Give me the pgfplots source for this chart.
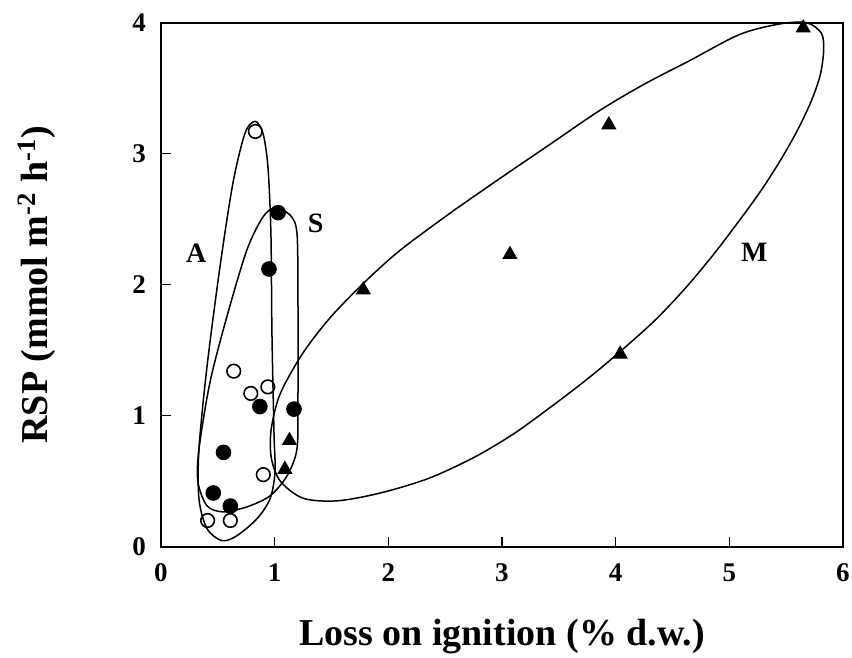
\documentclass[border=0pt]{standalone}
\usepackage{pgfplots}
\pgfplotsset{compat=1.18}
\usepackage{fontspec}
\setmainfont{Liberation Serif}
\begin{document}
\begin{tikzpicture}
\begin{axis}[
  scale only axis,
  width=341pt, height=262pt,
  xmin=0, xmax=6, ymin=0, ymax=4,
  xtick={0,1,2,3,4,5,6}, ytick={0,1,2,3,4},
  xtick pos=bottom, ytick pos=left,
  tick align=inside,
  major tick length=5pt,
  tick style={line width=0.8pt, black},
  axis line style={line width=1pt},
  /pgf/number format/assume math mode=true,
  ticklabel style={font=\bfseries\fontsize{13.5}{15}\selectfont},
  xticklabel style={yshift=-5pt},
  yticklabel style={xshift=-4pt},
  xlabel={Loss on ignition (\% d.w.)},
  ylabel={RSP (mmol m\textsuperscript{-2} h\textsuperscript{-1})},
  every axis x label/.style={at={(axis description cs:0.5,-0.172)}, anchor=center, font=\bfseries\fontsize{19}{22}\selectfont},
  every axis y label/.style={at={(axis description cs:-0.182,0.5)}, rotate=90, anchor=center, font=\bfseries\fontsize{19}{22}\selectfont},
  clip=false,
]
% Ellipse A
\addplot[black, line width=0.75pt, smooth cycle] coordinates {
(0.827,3.247) (0.897,3.156) (0.941,2.897) (0.967,2.395) (0.976,1.635) (0.994,0.875) (1.003,0.570) (0.959,0.365) (0.844,0.213) (0.668,0.084) (0.537,0.046) (0.405,0.137) (0.334,0.365) (0.334,0.745) (0.405,1.376) (0.519,2.137) (0.633,2.776) (0.739,3.156)
};
% Ellipse S
\addplot[black, line width=0.75pt, smooth cycle] coordinates {
(1.003,2.586) (1.135,2.532) (1.196,2.395) (1.205,1.886) (1.205,1.125) (1.196,0.745) (1.108,0.540) (0.959,0.388) (0.756,0.304) (0.545,0.266) (0.405,0.312) (0.325,0.494) (0.334,0.745) (0.431,1.255) (0.580,1.757) (0.756,2.266) (0.897,2.517)
};
% Ellipse M
\addplot[black, line width=0.75pt, smooth cycle] coordinates {
(5.68,4.00) (5.81,3.92) (5.83,3.79) (5.80,3.60) (5.72,3.40) (5.60,3.18) (5.45,2.95) (5.28,2.72) (5.08,2.48) (4.86,2.23) (4.62,1.98) (4.36,1.74) (4.08,1.52) (3.78,1.30) (3.45,1.08) (3.10,0.86) (2.75,0.68) (2.35,0.52) (1.93,0.41) (1.55,0.35) (1.25,0.37) (1.05,0.50) (0.97,0.68) (0.97,0.90) (1.05,1.17) (1.25,1.48) (1.49,1.75) (1.78,2.01) (2.10,2.26) (2.55,2.55) (2.98,2.81) (3.42,3.07) (3.86,3.33) (4.25,3.53) (4.65,3.71) (5.09,3.91) (5.44,3.99)
};
% Open circles
\addplot[only marks, mark=o, mark size=3.4pt, mark options={black, fill=white, line width=0.8pt}] coordinates {
(0.83,3.17) (0.64,1.34) (0.79,1.17) (0.94,1.22) (0.90,0.55) (0.41,0.20) (0.61,0.20)
};
% Filled circles
\addplot[only marks, mark=*, mark size=3.7pt, mark options={black, fill=black}] coordinates {
(1.03,2.55) (0.95,2.12) (0.87,1.07) (1.17,1.05) (0.55,0.72) (0.46,0.41) (0.61,0.31)
};
% Triangles
\addplot[only marks, mark=triangle*, mark size=4pt, mark options={black, fill=black}] coordinates {
(1.13,0.81) (1.09,0.59) (1.78,1.96) (3.07,2.23) (3.94,3.22) (4.04,1.47) (5.65,3.96)
};
\node[font=\bfseries\fontsize{14}{16}\selectfont] at (axis cs:0.31,2.24) {A};
\node[font=\bfseries\fontsize{14}{16}\selectfont] at (axis cs:1.36,2.47) {S};
\node[font=\bfseries\fontsize{14}{16}\selectfont] at (axis cs:5.22,2.25) {M};
\end{axis}
\pgfresetboundingbox
\useasboundingbox ([shift={(-80.5pt,-55.5pt)}]current axis.south west) rectangle ([shift={(4.5pt,11.35pt)}]current axis.north east);
\end{tikzpicture}
\end{document}
